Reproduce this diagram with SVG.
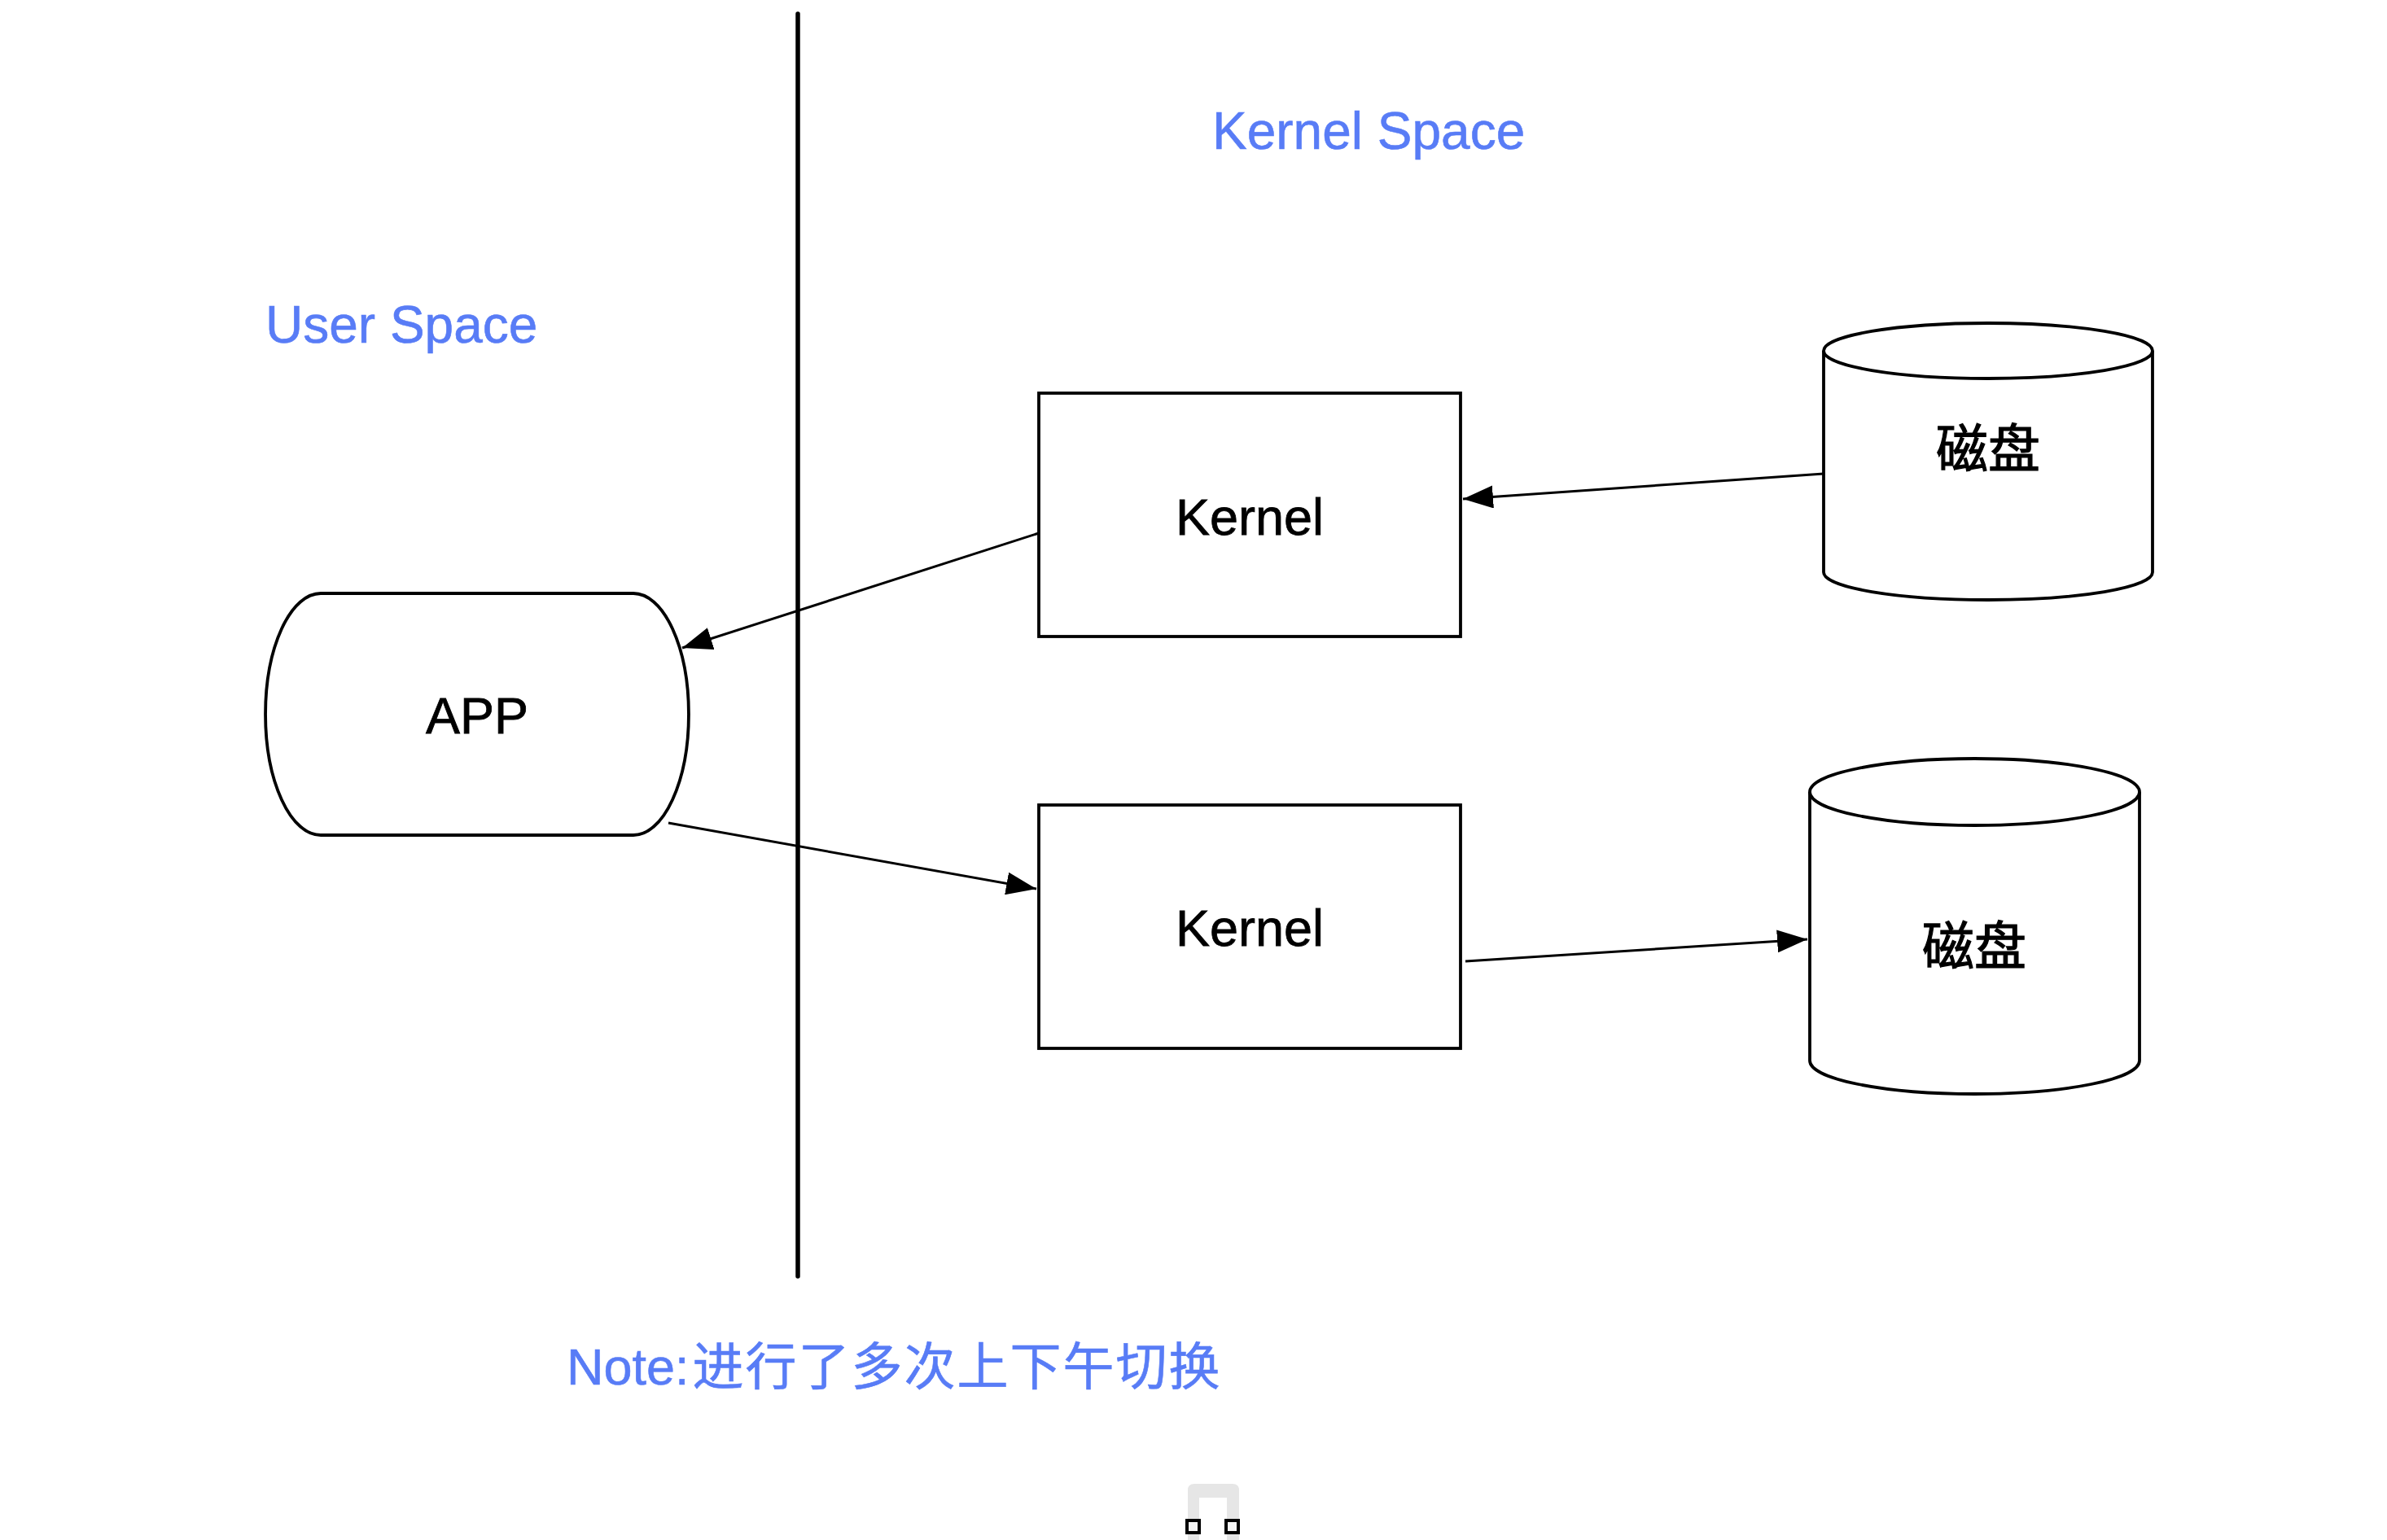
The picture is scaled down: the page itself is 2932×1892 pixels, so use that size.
<svg xmlns="http://www.w3.org/2000/svg" width="2932" height="1892" viewBox="0 0 2932 1892">
<defs>
<style>
.shape{fill:#ffffff;stroke:#000000;stroke-width:3.8}
.edge{fill:none;stroke:#000000;stroke-width:3}
.lbl{font-family:"Liberation Sans","Noto Sans CJK SC",sans-serif;font-size:63px;fill:#000000;stroke:#000000;stroke-width:0.8;text-anchor:middle}
.cjk{font-family:"Noto Sans CJK SC","Liberation Sans",sans-serif;font-size:64px;fill:#000000;stroke:#000000;stroke-width:1.2;text-anchor:middle}
.blue{font-family:"Liberation Sans","Noto Sans CJK SC",sans-serif;font-size:64px;fill:#587CF6;stroke:#587CF6;stroke-width:0.6}
</style>
<marker id="arr" viewBox="0 0 37 28" refX="37" refY="14" markerWidth="37" markerHeight="28" markerUnits="userSpaceOnUse" orient="auto">
<path d="M0,0 L37,14 L0,28 Z" fill="#000000"/>
</marker>
</defs>
<rect width="2932" height="1892" fill="#ffffff"/>

<g id="divider">
<line x1="980" y1="17" x2="980" y2="1568" stroke="#000000" stroke-width="5.5" stroke-linecap="round"/>
</g>

<g id="user-space-label"><text class="blue" x="326" y="421">User Space</text></g>
<g id="kernel-space-label"><text class="blue" x="1489" y="183">Kernel Space</text></g>

<g id="app">
<path class="shape" d="M394,729 H778 A68,148.5 0 0 1 778,1026 H394 A68,148.5 0 0 1 394,729 Z"/>
<text class="lbl" x="586" y="901">APP</text>
</g>

<g id="kernel1">
<rect class="shape" x="1276" y="483" width="518" height="299"/>
<text class="lbl" x="1535" y="657">Kernel</text>
</g>

<g id="kernel2">
<rect class="shape" x="1276" y="989" width="518" height="299"/>
<text class="lbl" x="1535" y="1162">Kernel</text>
</g>

<g id="disk1">
<path class="shape" d="M2240,431 A202,34 0 0 1 2644,431 V703 A202,34 0 0 1 2240,703 Z"/>
<path class="shape" fill="none" d="M2240,431 A202,34 0 0 0 2644,431"/>
<text class="cjk" x="2442" y="574">磁盘</text>
</g>

<g id="disk2">
<path class="shape" d="M2223,973 A202.5,41 0 0 1 2628,973 V1303 A202.5,41 0 0 1 2223,1303 Z"/>
<path class="shape" fill="none" d="M2223,973 A202.5,41 0 0 0 2628,973"/>
<text class="cjk" x="2425" y="1185">磁盘</text>
</g>

<g id="connectors">
<line class="edge" x1="2240" y1="582" x2="1797" y2="613" marker-end="url(#arr)"/>
<line class="edge" x1="1276" y1="655" x2="838" y2="796" marker-end="url(#arr)"/>
<line class="edge" x1="821" y1="1011" x2="1273" y2="1092" marker-end="url(#arr)"/>
<line class="edge" x1="1800" y1="1181" x2="2220" y2="1154" marker-end="url(#arr)"/>
</g>

<g id="note">
<text class="blue" x="696" y="1701" style="font-size:63px">Note:<tspan dx="4" letter-spacing="2" style="font-family:'Noto Sans CJK SC',sans-serif">进行了多次上下午切换</tspan></text>
</g>

<g id="bottom-icon">
<path d="M1459,1892 V1831 Q1459,1823 1467,1823 H1514 Q1522,1823 1522,1831 V1892 H1507 V1840 H1473 V1892 Z" fill="#e6e6e6"/>
<rect x="1458" y="1868" width="15" height="15" fill="#f4f4f4" stroke="#000000" stroke-width="4"/>
<rect x="1506" y="1868" width="15" height="15" fill="#f4f4f4" stroke="#000000" stroke-width="4"/>
</g>
</svg>
